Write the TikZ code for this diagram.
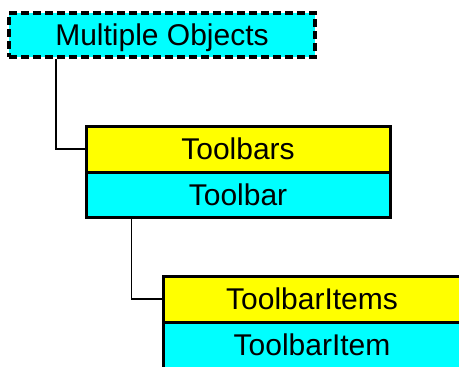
\documentclass[tikz,border=0pt]{standalone}
\usepackage{fontspec}
\setmainfont{Liberation Sans}
\definecolor{boxcyan}{HTML}{00FFFF}
\definecolor{boxyellow}{HTML}{FFFF00}
\begin{document}
\begin{tikzpicture}[x=1pt,y=-1pt,
  box/.style={rectangle, draw=black, line width=3pt, inner sep=0pt, font=\fontsize{30}{30}\selectfont, text depth=0pt},
  coll/.style={box, fill=boxyellow},
  obj/.style={box, fill=boxcyan},
  multi/.style={box, fill=boxcyan, line width=3.5pt, dash pattern=on 8pt off 4pt},
  link/.style={draw=black, line width=1.8pt}]
\useasboundingbox (0,0) rectangle (459,367);
\begin{scope}
\clip (0,0) rectangle (459,367);
\node[multi, minimum width=306pt, minimum height=44pt] (mo) at (162,35) {Multiple Objects};
\node[coll, minimum width=304pt, minimum height=46pt] (tbs) at (238,149) {Toolbars};
\node[obj, minimum width=304pt, minimum height=45pt] (tb) at (238,194.5) {Toolbar};
\node[coll, minimum width=298pt, minimum height=46pt] (tis) at (312,299) {ToolbarItems};
\node[obj, minimum width=298pt, minimum height=46pt] (ti) at (312,345) {ToolbarItem};
\draw[link] ([xshift=49pt]mo.south west) |- (tbs.west);
\draw[link] ([xshift=47pt]tb.south west) |- (tis.west);
\end{scope}
\end{tikzpicture}
\end{document}
